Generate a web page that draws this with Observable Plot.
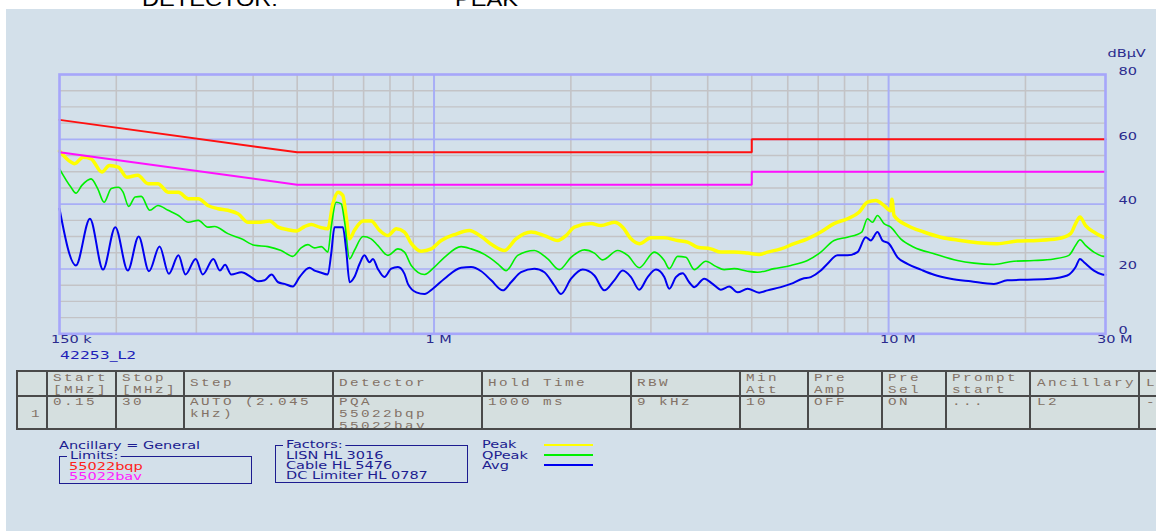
<!DOCTYPE html>
<html><head><meta charset="utf-8">
<script src="https://cdn.jsdelivr.net/npm/d3@7"></script>
<script src="https://cdn.jsdelivr.net/npm/@observablehq/plot@0.6"></script>
<style>
html,body{margin:0;padding:0;background:#fff;}
#page{position:relative;width:1156px;height:531px;overflow:hidden;background:#fff;}
#bg{position:absolute;left:6px;top:9px;right:0;bottom:0;background:#d3e0ea;}
.t{position:absolute;white-space:pre;transform-origin:0 0;margin:0;padding:0;}
.ln{position:absolute;}
</style>
</head><body>
<div id="page"><div id="bg"></div></div>
<script>
// ---------------- DATA ----------------
// frequencies in MHz, levels in dBµV
const peak = [
[0.15,56.4],[0.157,53.5],[0.162,52.5],[0.169,54.5],[0.176,54.0],[0.186,49.9],[0.193,51.9],[0.202,51.4],[0.211,48.3],[0.223,48.9],[0.235,46.3],[0.247,46.3],[0.260,43.7],[0.274,43.7],[0.288,41.7],[0.303,41.7],[0.318,39.6],[0.335,38.6],[0.352,38.1],[0.371,37.0],[0.390,34.4],[0.410,34.4],[0.435,34.8],[0.454,32.9],[0.477,32.1],[0.498,31.7],[0.519,33.1],[0.537,33.7],[0.560,32.9],[0.584,32.4],[0.599,40.1],[0.615,43.7],[0.630,42.7],[0.641,36.0],[0.652,29.3],[0.668,31.9],[0.698,34.8],[0.727,34.8],[0.759,31.9],[0.792,30.3],[0.826,32.4],[0.861,31.4],[0.891,27.9],[0.937,25.5],[0.986,26.2],[1.037,28.8],[1.109,30.6],[1.196,31.9],[1.270,30.0],[1.347,27.3],[1.428,25.7],[1.515,29.3],[1.635,31.4],[1.749,30.3],[1.871,28.8],[1.952,30.3],[2.035,32.9],[2.215,34.0],[2.330,33.4],[2.492,34.4],[2.600,32.9],[2.712,29.3],[2.828,27.8],[3.000,29.6],[3.210,29.6],[3.434,28.8],[3.612,28.3],[3.800,26.7],[4.064,26.2],[4.277,25.2],[4.573,25.2],[4.895,24.9],[5.190,24.5],[5.416,25.2],[5.794,26.2],[6.196,27.8],[6.630,29.3],[7.093,31.4],[7.585,34.0],[8.119,35.5],[8.608,37.5],[8.984,40.6],[9.369,41.1],[9.771,39.6],[10.10,38.0],[10.17,41.5],[10.28,36.5],[11.00,33.4],[11.96,31.4],[13.02,29.8],[14.40,28.8],[15.94,28.0],[17.34,27.8],[19.19,28.6],[21.24,28.8],[23.50,29.3],[25.14,30.9],[25.79,34.0],[26.36,36.0],[27.12,33.4],[28.29,31.4],[29.75,29.8],[30,29.7]
];
const qpeak = [
[0.15,50.9],[0.159,45.2],[0.163,43.4],[0.168,45.8],[0.176,47.8],[0.182,44.8],[0.188,40.6],[0.195,44.8],[0.202,45.2],[0.207,43.7],[0.213,39.3],[0.220,42.2],[0.227,42.4],[0.237,38.1],[0.247,39.6],[0.260,38.1],[0.274,36.5],[0.288,34.4],[0.303,35.0],[0.318,32.9],[0.329,33.1],[0.352,30.9],[0.377,29.3],[0.403,27.3],[0.431,26.9],[0.461,25.7],[0.489,23.9],[0.510,26.5],[0.528,27.5],[0.546,26.5],[0.565,26.9],[0.584,25.2],[0.594,32.9],[0.609,40.6],[0.625,40.1],[0.636,34.4],[0.652,23.1],[0.668,25.7],[0.698,30.0],[0.727,29.3],[0.752,27.3],[0.792,24.2],[0.833,26.2],[0.861,25.2],[0.891,21.1],[0.953,18.3],[1.002,20.6],[1.054,23.6],[1.147,26.9],[1.207,26.2],[1.291,24.5],[1.381,21.6],[1.441,19.5],[1.528,24.2],[1.662,25.7],[1.779,23.1],[1.887,19.8],[2.002,23.6],[2.141,25.9],[2.253,24.9],[2.350,22.8],[2.535,25.7],[2.667,24.2],[2.828,20.4],[3.051,25.2],[3.210,22.6],[3.292,20.1],[3.434,23.9],[3.581,23.6],[3.736,19.8],[3.963,22.4],[4.168,20.8],[4.347,19.8],[4.573,20.1],[4.895,19.3],[5.148,19.0],[5.599,20.1],[6.094,21.1],[6.630,22.6],[7.093,25.2],[7.585,28.8],[8.119,29.8],[8.727,31.4],[8.984,35.5],[9.214,34.4],[9.450,36.5],[9.771,34.0],[10.11,32.9],[10.63,29.3],[11.37,26.7],[12.59,24.7],[14.17,22.6],[15.41,21.8],[17.05,21.4],[18.87,22.4],[20.87,22.6],[23.10,23.1],[24.92,24.2],[25.79,27.3],[26.36,29.0],[27.12,27.3],[28.29,25.2],[29.75,23.9],[30,23.9]
];
const avg = [
[0.15,38.6],[0.163,21.1],[0.175,35.5],[0.187,19.8],[0.199,32.9],[0.212,19.5],[0.224,30.0],[0.236,19.3],[0.249,26.9],[0.261,18.5],[0.274,24.2],[0.284,18.3],[0.299,23.1],[0.310,18.3],[0.327,23.1],[0.338,19.5],[0.347,21.3],[0.358,18.3],[0.377,19.0],[0.396,17.5],[0.410,16.2],[0.424,16.5],[0.439,18.3],[0.454,15.9],[0.469,15.4],[0.489,14.6],[0.506,17.5],[0.532,20.4],[0.546,19.5],[0.560,19.0],[0.584,18.3],[0.594,24.7],[0.604,32.9],[0.630,32.9],[0.641,25.7],[0.652,15.9],[0.668,17.5],[0.686,21.6],[0.703,24.2],[0.721,22.1],[0.734,23.1],[0.752,20.1],[0.778,17.5],[0.805,20.1],[0.833,20.6],[0.861,18.5],[0.876,15.4],[0.914,12.8],[0.953,12.3],[0.994,13.9],[1.054,17.0],[1.147,20.4],[1.207,20.6],[1.270,19.3],[1.336,16.5],[1.417,13.4],[1.477,15.9],[1.554,19.0],[1.662,20.1],[1.749,19.0],[1.840,14.9],[1.903,12.3],[2.002,17.0],[2.124,19.8],[2.253,18.0],[2.369,13.4],[2.492,16.5],[2.600,19.5],[2.712,17.5],[2.828,13.6],[2.951,17.5],[3.078,19.8],[3.210,17.5],[3.292,13.9],[3.405,17.5],[3.523,18.7],[3.642,15.9],[3.736,14.4],[3.929,17.0],[4.100,15.4],[4.277,13.6],[4.461,14.6],[4.654,12.8],[4.895,13.9],[5.190,12.7],[5.416,13.4],[5.794,14.4],[6.094,15.4],[6.466,17.0],[6.742,17.5],[7.093,19.5],[7.339,21.6],[7.718,24.2],[8.119,24.2],[8.541,25.2],[8.907,29.8],[9.135,28.8],[9.450,31.4],[9.692,28.8],[10.02,27.8],[10.46,23.6],[11.00,21.6],[11.77,19.8],[12.59,18.2],[13.69,17.0],[15.15,16.2],[17.05,15.4],[18.24,16.5],[20.19,16.7],[22.71,17.0],[24.72,18.0],[25.79,20.6],[26.36,23.1],[26.90,22.1],[28.29,19.5],[29.52,18.3],[30,18.2]
];
const qpLimit = [[0.15,66],[0.5,56],[5,56],[5,60],[30,60]];
const avLimit = [[0.15,56],[0.5,46],[5,46],[5,50],[30,50]];

const xTickF = [0.15, 1, 10, 30];
const xTickLabels = ["150 k", "1 M", "10 M", "30 M"];
const yTicks = [0, 20, 40, 60, 80];
const yUnit = "dBµV";
const gridMinorF = [0.2,0.3,0.4,0.5,0.6,0.7,0.8,0.9,2,3,4,5,6,7,8,9,20];
const gridMajorF = [1, 10];
const gridMinorDb = [5,10,15,25,30,35,45,50,55,65,70,75];
const gridMajorDb = [20, 40, 60];

const topTexts = ["DETECTOR:", "PEAK"];
const scanName = "42253_L2";
const tableHeader = ["", "Start\n[MHz]", "Stop\n[MHz]", "Step", "Detector", "Hold Time", "RBW", "Min\nAtt", "Pre\nAmp", "Pre\nSel", "Prompt\nstart", "Ancillary", "L"];
const tableRow = ["1", "0.15", "30", "AUTO (2.045\nkHz)", "PQA\n55022bqp\n55022bav", "1000 ms", "9 kHz", "10", "OFF", "ON", "...", "L2", "-"];
const ancillary = "Ancillary = General";
const limitsTitle = "Limits:";
const limitNames = ["55022bqp", "55022bav"];
const factorsTitle = "Factors:";
const factorNames = ["LISN HL 3016", "Cable HL 5476", "DC Limiter HL 0787"];
const traceNames = ["Peak", "QPeak", "Avg"];

// ---------------- STYLE ----------------
const C = {peak:"#ffff00", qpeak:"#00f000", avg:"#0000f0", qpLim:"#ff1010", avLim:"#ff10ff",
  gridMinor:"#c3c3c6", gridMajor:"#a8aef6", frame:"#a6a6fa", axisText:"#2a2a8e", navy:"#1c1c90", bg:"#d3e0ea"};

const page = document.getElementById("page");

const chart = Plot.plot({
  width: 1156, height: 360,
  marginLeft: 59, marginRight: 51, marginTop: 74, marginBottom: 26.7,
  x: {type: "log", domain: [0.15, 30], axis: null},
  y: {domain: [0, 80], axis: null},
  style: {background: "transparent", fontFamily: "DejaVu Sans", fontSize: "10px", overflow: "visible"},
  marks: [
    Plot.ruleX(gridMinorF, {stroke: C.gridMinor, strokeWidth: 1.6}),
    Plot.ruleY(gridMinorDb, {stroke: C.gridMinor, strokeWidth: 1.4}),
    Plot.ruleX(gridMajorF, {stroke: C.gridMajor, strokeWidth: 2}),
    Plot.ruleY(gridMajorDb, {stroke: C.gridMajor, strokeWidth: 1.6}),
    Plot.line(peak, {x: d => d[0], y: d => d[1], stroke: C.peak, strokeWidth: 3.5, curve: "monotone-x"}),
    Plot.line(qpeak, {x: d => d[0], y: d => d[1], stroke: C.qpeak, strokeWidth: 1.6, curve: "monotone-x"}),
    Plot.line(avg, {x: d => d[0], y: d => d[1], stroke: C.avg, strokeWidth: 2, curve: "monotone-x"}),
    Plot.line(qpLimit, {x: d => d[0], y: d => d[1], stroke: C.qpLim, strokeWidth: 2, strokeLinejoin: "miter"}),
    Plot.line(avLimit, {x: d => d[0], y: d => d[1], stroke: C.avLim, strokeWidth: 2, strokeLinejoin: "miter"}),
    Plot.frame({stroke: C.frame, strokeWidth: 2.6}),
    Plot.text(xTickF, {x: d => d, y: () => 0, text: (d, i) => xTickLabels[i], dx: -8.5, dy: 6, textAnchor: "start", fill: C.axisText}),
    Plot.text(yTicks, {x: () => 30, y: d => d, text: d => String(d), dx: 13, dy: -3, textAnchor: "start", fill: C.axisText}),
    Plot.text([yUnit], {x: () => 30, y: () => 80, text: d => d, dx: 2, dy: -21, textAnchor: "start", fill: C.axisText})
  ]
});
chart.style.position = "absolute";
chart.style.left = "0px";
chart.style.top = "0px";
page.appendChild(chart);
// stretch SVG text horizontally like the original screen font
chart.querySelectorAll("text").forEach(t => {
  const L = t.getComputedTextLength();
  if (L > 0) { t.setAttribute("textLength", (L * 1.45).toFixed(1)); t.setAttribute("lengthAdjust", "spacingAndGlyphs"); }
});

// ---------------- HTML helpers ----------------
function addText(txt, left, top, o = {}) {
  const d = document.createElement("div");
  d.className = "t";
  d.textContent = txt;
  const fs = o.size || 10, lh = o.lh || fs;
  Object.assign(d.style, {
    left: left + "px", top: top + "px", fontSize: fs + "px", lineHeight: lh + "px",
    color: o.color || C.navy, fontFamily: o.font || "'DejaVu Sans'",
    transform: `scaleX(${o.k || 1.45})`, letterSpacing: (o.ls || 0) + "px",
    background: o.bg || "none", padding: o.pad || "0", fontWeight: o.weight || "normal"
  });
  page.appendChild(d);
  return d;
}
function addRect(l, t, w, h, style) {
  const d = document.createElement("div");
  d.className = "ln";
  Object.assign(d.style, {left: l + "px", top: t + "px", width: w + "px", height: h + "px", boxSizing: "border-box"}, style);
  page.appendChild(d);
  return d;
}

// top (cropped) header line
addText(topTexts[0], 142, -10.9, {size: 20, lh: 20, color: "#000", font: "'Liberation Sans'", k: 1.18});
addText(topTexts[1], 455, -10.9, {size: 20, lh: 20, color: "#000", font: "'Liberation Sans'", k: 1.18});

// scan name
addText(scanName, 60, 349.5, {size: 11, lh: 11, color: "#2020b8", k: 1.42});

// ---------------- table ----------------
const colEdges = [17.3, 46.7, 115.7, 184, 332.7, 481.7, 631, 740, 808, 882, 945.5, 1030.4, 1139.2];
const tTop = 370.7, tMid = 396, tBot = 429.3;
addRect(17.3, tTop, 1156 - 17.3, tBot - tTop, {background: "#d5dfdf"});
const tcol = "#837266";
const mono = {size: 11, lh: 12, color: tcol, font: "'Liberation Mono'", k: 1.3, ls: 1.86};
tableHeader.forEach((h, i) => {
  if (!h) return;
  const lines = h.split("\n").length;
  addText(h, colEdges[i] + 6.3, lines === 2 ? 372 : 377.3, mono);
});
tableRow.forEach((v, i) => {
  if (i === 0) { addText(v, 31, 408, mono); return; }
  addText(v, colEdges[i] + 6.3, 395.7, Object.assign({}, mono, {lh: 12.2}));
});
// grid lines of the table
[tTop, tMid, tBot].forEach(y => addRect(17.3, y - 1, 1156 - 17.3, 2, {background: "#4a4a4a"}));
colEdges.forEach(x => addRect(x - 1, tTop - 1, 2, tBot - tTop + 2, {background: "#4a4a4a"}));
// mask table text below bottom border
addRect(17.3, tBot + 1, 1156 - 17.3, 12, {background: C.bg});

// ---------------- legend ----------------
addText(ancillary, 59, 441, {});
addRect(59, 456, 193, 27.5, {border: `1.5px solid ${C.navy}`});
addText(limitsTitle, 66.5, 451, {bg: C.bg, pad: "0 2px"});
addText(limitNames[0], 69, 462, {color: "#ff2020"});
addText(limitNames[1], 69, 472, {color: "#ff20ff"});

addRect(275, 445, 192.5, 38, {border: `1.5px solid ${C.navy}`});
addText(factorsTitle, 282.5, 440, {bg: C.bg, pad: "0 2px"});
factorNames.forEach((n, i) => addText(n, 285.5, 451 + i * 10.2, {}));

const traceColors = [C.peak, C.qpeak, C.avg];
traceNames.forEach((n, i) => {
  addText(n, 481.5, 440.3 + i * 10.3, {});
  addRect(543.5, 444 + i * 10, 49, 2, {background: traceColors[i]});
});
</script>
</body></html>
